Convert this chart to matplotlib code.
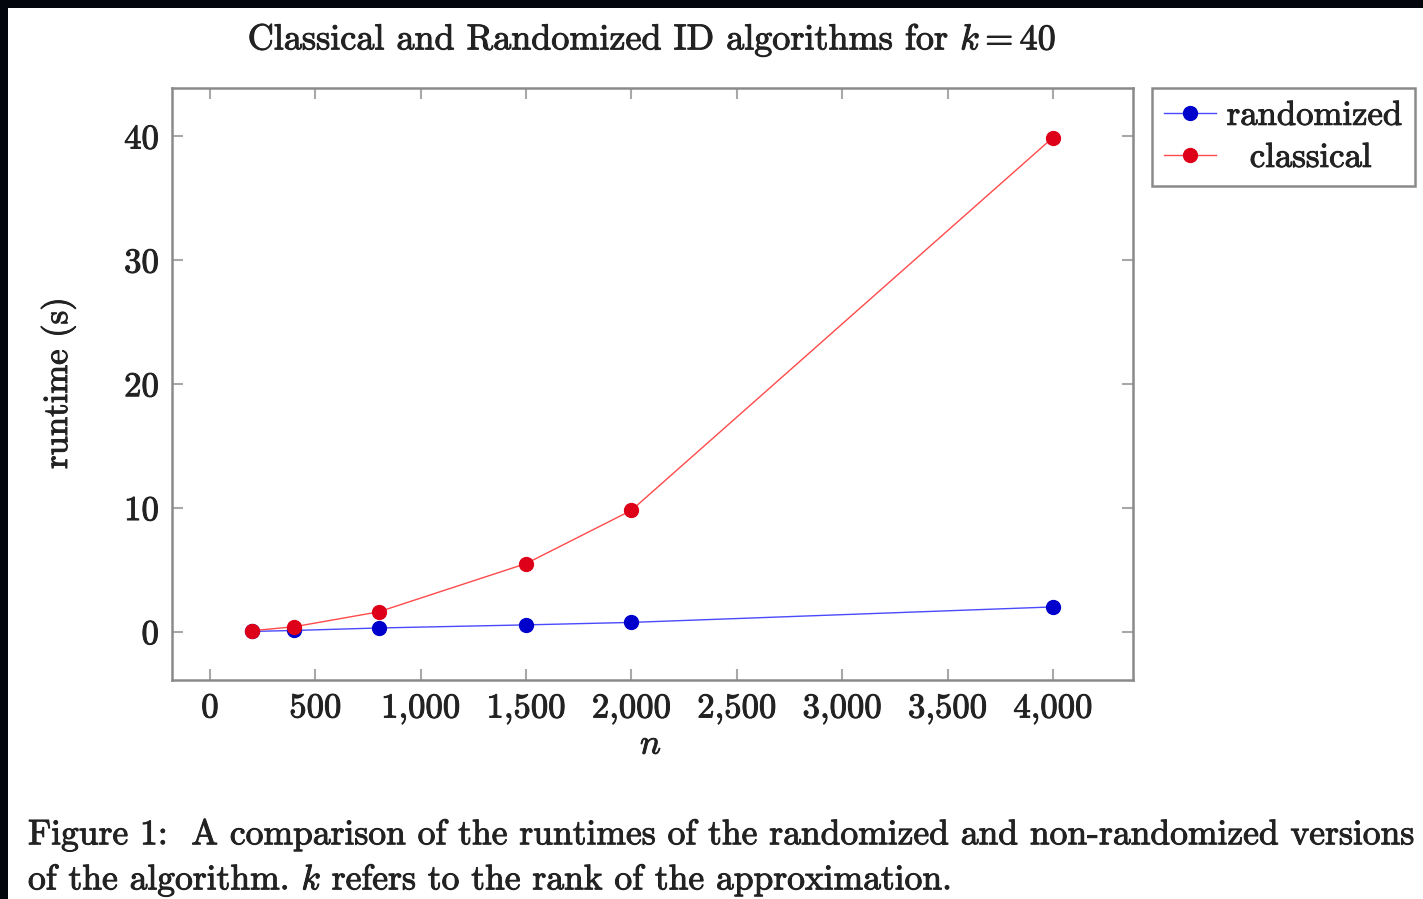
import matplotlib
matplotlib.use('Agg')
import matplotlib.pyplot as plt
import matplotlib.patheffects as pe
from matplotlib.patches import Rectangle
from matplotlib.ticker import FuncFormatter

# values
n_values = [200, 400, 800, 1500, 2000, 4000]
randomized = [0.02, 0.1, 0.3, 0.55, 0.75, 2.0]
classical = [0.08, 0.4, 1.6, 5.5, 9.8, 39.9]
x_ticks = [0, 500, 1000, 1500, 2000, 2500, 3000, 3500, 4000]
y_ticks = [0, 10, 20, 30, 40]
series_names = ['randomized', '  classical']

plt.rcParams['font.family'] = ['cmr10', 'DejaVu Serif']
plt.rcParams['mathtext.fontset'] = 'cm'
plt.rcParams['axes.formatter.use_mathtext'] = True

W, H = 1423, 899
text_col = '#222222'
frame_col = '#8a8a8a'
thick = [pe.withStroke(linewidth=0.7, foreground=text_col)]

fig = plt.figure(figsize=(W / 100, H / 100), dpi=100, facecolor='#04060e')
# white page area of the screenshot
fig.patches.append(Rectangle((8 / W, 0), 1 - 8 / W, 1 - 8 / H, transform=fig.transFigure,
                             facecolor='white', edgecolor='none', zorder=-5))

ax = fig.add_axes([172 / W, 1 - 680 / H, (1133 - 172) / W, (680 - 88) / H])
ax.set_zorder(2)
ax.plot(n_values, randomized, color='#4a4aff', lw=1.0, marker='o', markersize=10,
        markerfacecolor='#0000cc', markeredgecolor='#0000cc', label=series_names[0])
ax.plot(n_values, classical, color='#ff4a4a', lw=1.0, marker='o', markersize=10,
        markerfacecolor='#dd0018', markeredgecolor='#dd0018', label=series_names[1])

ax.set_xlim(-180, 4380)
ax.set_ylim(-3.9, 43.9)
ax.set_xticks(x_ticks)
ax.set_yticks(y_ticks)
ax.xaxis.set_major_formatter(FuncFormatter(lambda v, p: f'{int(v):,}'))
ax.tick_params(direction='in', length=8, width=1.5, color='#a8a8a8', labelcolor=text_col,
               labelsize=25, top=True, right=True, pad=9)
for lab in ax.get_xticklabels() + ax.get_yticklabels():
    lab.set_path_effects(thick)
for s in ax.spines.values():
    s.set_color(frame_col)
    s.set_linewidth(1.8)

fig.text(652 / W, 1 - 40 / H, 'Classical and Randomized ID algorithms for $k = 40$',
         ha='center', va='center', fontsize=26, color=text_col, path_effects=thick)
fig.text(651 / W, 1 - 745 / H, '$n$', ha='center', va='center', fontsize=25, color=text_col,
         path_effects=thick)
fig.text(58 / W, 1 - 383 / H, 'runtime (s)', rotation=90, ha='center', va='center',
         fontsize=25, color=text_col, path_effects=thick)

leg = ax.legend(loc='upper left', bbox_to_anchor=(1152 / W, 1 - 88 / H),
                bbox_transform=fig.transFigure, borderaxespad=0, fancybox=False,
                edgecolor=frame_col, fontsize=25, handlelength=1.5, handletextpad=0.3,
                labelspacing=0.3, borderpad=0.35, framealpha=1)
leg.get_frame().set_linewidth(1.8)
for t in leg.get_texts():
    t.set_color(text_col)
    t.set_path_effects(thick)

fig.text(28 / W, 1 - 835 / H,
         'Figure 1:  A comparison of the runtimes of the randomized and non-randomized versions',
         ha='left', va='center', fontsize=25.6, color=text_col, path_effects=thick)
fig.text(28 / W, 1 - 880 / H,
         'of the algorithm. $k$ refers to the rank of the approximation.',
         ha='left', va='center', fontsize=25.6, color=text_col, path_effects=thick)

fig.savefig('out.png', dpi=100, facecolor=fig.get_facecolor())
